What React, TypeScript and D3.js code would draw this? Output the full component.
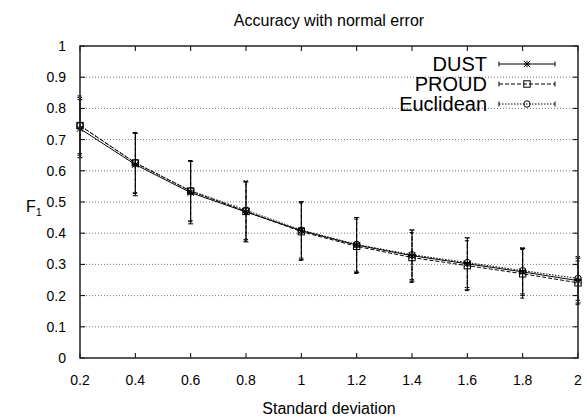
import React from "react";
import * as d3 from "d3";

const xValues = [0.2, 0.4, 0.6, 0.8, 1.0, 1.2, 1.4, 1.6, 1.8, 2.0];
const dustMean = [0.735, 0.62, 0.53, 0.468, 0.408, 0.362, 0.328, 0.302, 0.276, 0.248];
const dustErr = [0.093, 0.1, 0.1, 0.096, 0.093, 0.088, 0.082, 0.083, 0.075, 0.072];
const proudMean = [0.745, 0.625, 0.535, 0.47, 0.405, 0.358, 0.322, 0.296, 0.27, 0.241];
const proudErr = [0.095, 0.098, 0.098, 0.095, 0.092, 0.087, 0.08, 0.08, 0.078, 0.07];
const euclMean = [0.745, 0.626, 0.536, 0.474, 0.41, 0.364, 0.331, 0.306, 0.28, 0.255];
const euclErr = [0.09, 0.096, 0.096, 0.094, 0.09, 0.086, 0.08, 0.08, 0.074, 0.07];
const seriesNames = ["DUST", "PROUD", "Euclidean"];
const xTicks = [0.2, 0.4, 0.6, 0.8, 1, 1.2, 1.4, 1.6, 1.8, 2];
const yTicks = [0, 0.1, 0.2, 0.3, 0.4, 0.5, 0.6, 0.7, 0.8, 0.9, 1];

const W = 587;
const H = 419;
const left = 80;
const right = 578;
const top = 46;
const bottom = 358;
const font = "Liberation Sans, Arial, Helvetica, sans-serif";

const x = d3.scaleLinear().domain([0.2, 2]).range([left, right]);
const y = d3.scaleLinear().domain([0, 1]).range([bottom, top]);

type Series = { name: string; mean: number[]; err: number[]; dash: string; marker: string };
const series: Series[] = [
  { name: seriesNames[0], mean: dustMean, err: dustErr, dash: "", marker: "star" },
  { name: seriesNames[1], mean: proudMean, err: proudErr, dash: "4,2", marker: "square" },
  { name: seriesNames[2], mean: euclMean, err: euclErr, dash: "1.5,1.5", marker: "circle" },
];

function Marker({ kind, cx, cy }: { kind: string; cx: number; cy: number }) {
  const r = 3.2;
  if (kind === "square")
    return <rect x={cx - r} y={cy - r} width={2 * r} height={2 * r} fill="none" stroke="#000" strokeWidth={1} />;
  if (kind === "circle") return <circle cx={cx} cy={cy} r={r} fill="none" stroke="#000" strokeWidth={1} />;
  return (
    <g stroke="#000" strokeWidth={1}>
      <line x1={cx - r} x2={cx + r} y1={cy} y2={cy} />
      <line x1={cx} x2={cx} y1={cy - r} y2={cy + r} />
      <line x1={cx - r} x2={cx + r} y1={cy - r} y2={cy + r} />
      <line x1={cx - r} x2={cx + r} y1={cy + r} y2={cy - r} />
    </g>
  );
}

export default function App() {
  const line = d3
    .line<number>()
    .x((_, i) => x(xValues[i]))
    .y((d) => y(d));
  const fmt = (v: number) => String(Math.round(v * 10) / 10);
  const tickLen = 5;
  const cap = 2.5;
  return (
    <svg width={W} height={H} style={{ position: "absolute", left: 0, top: 0, background: "#fff" }}>
      <rect width={W} height={H} fill="#fff" />
      {/* grid */}
      {yTicks.slice(1, -1).map((t) => (
        <line key={"g" + t} x1={left} x2={right} y1={y(t)} y2={y(t)} stroke="#555" strokeWidth={0.8} strokeDasharray="1,2" />
      ))}
      {/* ticks */}
      {yTicks.map((t) => (
        <g key={"yt" + t} stroke="#000" strokeWidth={1}>
          <line x1={left} x2={left + tickLen} y1={y(t)} y2={y(t)} />
          <line x1={right} x2={right - tickLen} y1={y(t)} y2={y(t)} />
        </g>
      ))}
      {xTicks.map((t) => (
        <g key={"xt" + t} stroke="#000" strokeWidth={1}>
          <line x1={x(t)} x2={x(t)} y1={bottom} y2={bottom - tickLen} />
          <line x1={x(t)} x2={x(t)} y1={top} y2={top + tickLen} />
        </g>
      ))}
      {/* series */}
      {series.map((s) => (
        <g key={s.name}>
          <path d={line(s.mean) || ""} fill="none" stroke="#000" strokeWidth={1} strokeDasharray={s.dash} />
          {s.mean.map((m, i) => {
            const cx = x(xValues[i]);
            const lo = y(m - s.err[i]);
            const hi = y(m + s.err[i]);
            return (
              <g key={i} stroke="#000" strokeWidth={1} strokeDasharray={s.dash}>
                <line x1={cx} x2={cx} y1={lo} y2={hi} />
                <line x1={cx - cap} x2={cx + cap} y1={lo} y2={lo} strokeDasharray="" />
                <line x1={cx - cap} x2={cx + cap} y1={hi} y2={hi} strokeDasharray="" />
              </g>
            );
          })}
          {s.mean.map((m, i) => (
            <Marker key={"m" + i} kind={s.marker} cx={x(xValues[i])} cy={y(m)} />
          ))}
        </g>
      ))}
      {/* frame */}
      <rect x={left} y={top} width={right - left} height={bottom - top} fill="none" stroke="#222" strokeWidth={1.5} />
      {/* tick labels */}
      {yTicks.map((t) => (
        <text key={"yl" + t} x={left - 14} y={y(t)} dy="0.35em" textAnchor="end" fontFamily={font} fontSize={14}>
          {fmt(t)}
        </text>
      ))}
      {xTicks.map((t) => (
        <text key={"xl" + t} x={x(t)} y={bottom + 22} dy="0.35em" textAnchor="middle" fontFamily={font} fontSize={14}>
          {fmt(t)}
        </text>
      ))}
      {/* legend */}
      {series.map((s, i) => {
        const ly = 64 + i * 20;
        const x1 = 499;
        const x2 = 555;
        return (
          <g key={"lg" + s.name}>
            <text x={487} y={ly} dy="0.35em" textAnchor="end" fontFamily={font} fontSize={20}>
              {s.name}
            </text>
            <line x1={x1} x2={x2} y1={ly} y2={ly} stroke="#000" strokeWidth={1} strokeDasharray={s.dash} />
            <line x1={x1} x2={x1} y1={ly - cap} y2={ly + cap} stroke="#000" />
            <line x1={x2} x2={x2} y1={ly - cap} y2={ly + cap} stroke="#000" />
            <Marker kind={s.marker} cx={(x1 + x2) / 2} cy={ly} />
          </g>
        );
      })}
      {/* titles */}
      <text x={(left + right) / 2} y={20} dy="0.35em" textAnchor="middle" fontFamily={font} fontSize={16}>
        Accuracy with normal error
      </text>
      <text x={(left + right) / 2} y={408} dy="0.35em" textAnchor="middle" fontFamily={font} fontSize={16}>
        Standard deviation
      </text>
      <text x={26} y={206} dy="0.35em" fontFamily={font} fontSize={16}>
        F<tspan fontSize={11} dy="4">1</tspan>
      </text>
    </svg>
  );
}
